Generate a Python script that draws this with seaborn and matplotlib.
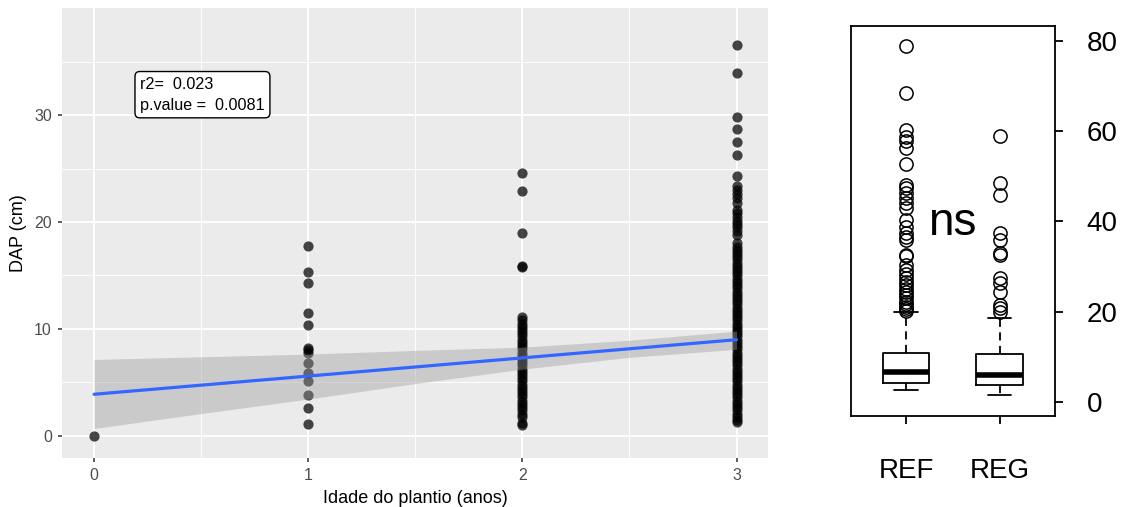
import numpy as np
import pandas as pd
import matplotlib
matplotlib.use("Agg")
import matplotlib.pyplot as plt
import seaborn as sns

# ---------------- Left panel data: DAP (cm) by planting age ----------------
age0_dap = [0.0]
age1_dap = [17.8, 15.3, 14.3, 11.5, 10.4, 8.2, 8.0, 7.8, 6.8, 5.9, 5.1, 3.8, 2.6, 1.15]
age2_dap = [24.6, 22.9, 19.0, 15.9, 15.8, 11.1, 10.8, 10.5, 10.2, 9.9, 9.6, 9.3, 9.0,
            8.7, 8.4, 8.1, 7.8, 7.5, 7.2, 6.9, 6.6, 6.3, 6.0, 5.7, 5.4, 5.1, 4.8,
            4.5, 4.2, 3.9, 3.6, 3.3, 3.0, 2.7, 2.4, 2.1, 1.8, 1.2, 1.0]
age3_dap = [36.5, 33.9, 29.8, 28.7, 27.5, 26.3, 24.3, 23.4, 23.0, 22.6, 22.2, 21.8,
            21.1, 20.8, 20.5, 20.1, 19.8, 19.5, 19.2, 18.8, 18.0, 17.7, 17.4, 17.1,
            16.8, 16.5, 16.2, 15.9, 15.6, 15.3, 15.0, 14.7, 14.4, 14.1, 13.8, 13.5,
            13.2, 12.9, 12.6, 12.3, 12.0, 11.7, 11.4, 11.1, 10.8, 10.5, 10.2, 9.9,
            9.6, 9.3, 9.0, 8.7, 8.4, 8.1, 7.8, 7.5, 7.2, 6.9, 6.6, 6.3, 6.0, 5.7,
            5.4, 5.1, 4.8, 4.5, 4.2, 3.9, 3.6, 3.3, 3.0, 2.7, 2.4, 2.1, 1.8, 1.5, 1.3]

# fitted line and confidence band
fit_x = [0, 0.5, 1, 1.5, 2, 2.5, 3]
fit_y = [3.9, 4.75, 5.6, 6.45, 7.3, 8.15, 9.0]
ci_lo = [0.7, 2.1, 3.45, 4.9, 6.25, 7.35, 8.1]
ci_hi = [7.15, 7.4, 7.65, 8.0, 8.3, 8.95, 9.8]

x_ticks = [0, 1, 2, 3]
y_ticks = [0, 10, 20, 30]
stats_lines = ["r2=  0.023", "p.value =  0.0081"]
x_label = "Idade do plantio (anos)"
y_label = "DAP (cm)"

# ---------------- Right panel data: boxplots REF vs REG ----------------
groups = ["REF", "REG"]
box_whislo = [2.6, 1.5]
box_q1 = [4.1, 3.7]
box_med = [6.6, 5.9]
box_q3 = [10.7, 10.5]
box_whishi = [19.9, 18.6]
ref_outliers = [78.9, 68.5, 60.2, 58.8, 57.7, 56.2, 52.6, 48.0, 47.3, 46.2, 45.1,
                44.0, 42.9, 40.3, 38.8, 37.3, 36.6, 35.9, 32.5, 32.2, 30.3, 29.2,
                28.3, 27.4, 26.6, 25.8, 25.0, 24.4, 23.7, 23.0, 22.2, 21.6, 21.0,
                20.5, 20.2]
reg_outliers = [58.9, 48.4, 45.8, 37.3, 35.8, 32.9, 32.5, 27.4, 26.3, 24.4, 21.4,
                20.7, 20.0]
right_ticks = [0, 20, 40, 60, 80]
sig_label = "ns"

# ---------------- Figure ----------------
sns.set_style("white")
plt.rcParams["font.family"] = ["Liberation Sans", "DejaVu Sans"]

fig = plt.figure(figsize=(11.25, 5.07), dpi=100)
fig.patch.set_facecolor("white")

# Left: ggplot-like panel
ax = fig.add_axes([0.0551, 0.0966, 0.6276, 0.8876])
ax.set_facecolor("#EBEBEB")
for s in ax.spines.values():
    s.set_visible(False)

df = pd.DataFrame({
    "age": [0] * len(age0_dap) + [1] * len(age1_dap) + [2] * len(age2_dap) + [3] * len(age3_dap),
    "dap": age0_dap + age1_dap + age2_dap + age3_dap,
})
sns.scatterplot(data=df, x="age", y="dap", ax=ax, color="black", alpha=0.72,
                s=54, linewidth=0, zorder=3)
ax.fill_between(fit_x, ci_lo, ci_hi, color="#999999", alpha=0.4, linewidth=0, zorder=4)
sns.lineplot(x=fit_x, y=fit_y, ax=ax, color="#3366FF", linewidth=2.3, zorder=5)

ax.set_xlim(-0.15, 3.147)
ax.set_ylim(-2.06, 40.0)
ax.set_xticks(x_ticks)
ax.set_xticklabels([str(t) for t in x_ticks])
ax.set_yticks(y_ticks)
ax.set_yticklabels([str(t) for t in y_ticks])
ax.set_xticks([0.5, 1.5, 2.5], minor=True)
ax.set_yticks([5, 15, 25, 35], minor=True)
ax.grid(True, which="major", color="white", linewidth=1.4, zorder=0)
ax.grid(True, which="minor", color="white", linewidth=0.7, zorder=0)
ax.set_axisbelow(True)
ax.tick_params(axis="both", which="major", length=3.2, width=1.1, color="#333333",
               labelsize=11.5, labelcolor="#4D4D4D", pad=4, direction="out",
               bottom=True, left=True)
ax.tick_params(axis="both", which="minor", length=0)
ax.set_xlabel(x_label, fontsize=13, color="black", labelpad=5)
ax.set_ylabel(y_label, fontsize=13, color="black", labelpad=5)

ax.text(0.215, 31.9, "\n".join(stats_lines), ha="left", va="center", fontsize=11.6,
        color="black", linespacing=1.5, zorder=6,
        bbox=dict(boxstyle="round,pad=0.32,rounding_size=0.3", facecolor="white",
                  edgecolor="black", linewidth=1.0))

# Right: base-R style boxplot
ax2 = fig.add_axes([0.7562, 0.1801, 0.1816, 0.7686])
ax2.set_facecolor("white")
stats = []
outs = [ref_outliers, reg_outliers]
for i, g in enumerate(groups):
    stats.append(dict(label=g, whislo=box_whislo[i], q1=box_q1[i], med=box_med[i],
                      q3=box_q3[i], whishi=box_whishi[i], fliers=outs[i]))
lw = 1.3
ax2.bxp(stats, positions=[0, 1], widths=0.5, capwidths=0.25, showfliers=True,
        boxprops=dict(color="black", linewidth=lw),
        medianprops=dict(color="black", linewidth=4.0, solid_capstyle="butt"),
        whiskerprops=dict(color="black", linewidth=lw, linestyle=(0, (4.5, 3))),
        capprops=dict(color="black", linewidth=lw),
        flierprops=dict(marker="o", markerfacecolor="none", markeredgecolor="black",
                        markersize=9.5, markeredgewidth=1.1))
ax2.set_xlim(-0.59, 1.59)
ax2.set_ylim(-3.1, 83.3)
for s in ax2.spines.values():
    s.set_visible(True)
    s.set_color("black")
    s.set_linewidth(lw)
ax2.yaxis.tick_right()
ax2.set_yticks(right_ticks)
ax2.set_yticklabels([str(t) for t in right_ticks])
ax2.set_xticks([0, 1])
ax2.set_xticklabels(groups)
ax2.tick_params(axis="y", which="both", right=True, left=False, length=5.8, width=lw,
                labelsize=20, pad=17, direction="out", colors="black")
ax2.tick_params(axis="x", bottom=True, length=5.8, width=lw, labelsize=20, pad=25,
                direction="out", colors="black")
ax2.grid(False)
ax2.text(0.49, 37.0, sig_label, ha="center", va="baseline", fontsize=33,
         family=["Liberation Sans Narrow", "Liberation Sans", "DejaVu Sans"], color="black")

fig.savefig("out.png", dpi=100, facecolor="white")
